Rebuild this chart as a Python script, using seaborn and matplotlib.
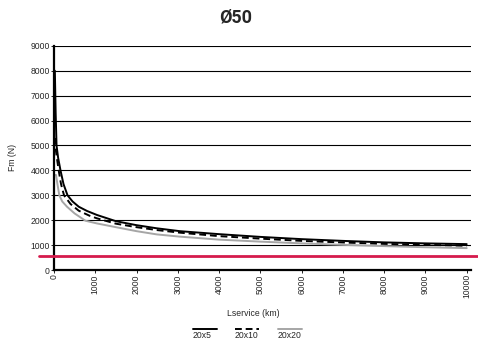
import pandas as pd
import matplotlib
matplotlib.use("Agg")
import matplotlib.pyplot as plt
import seaborn as sns
from matplotlib.lines import Line2D

# data
km_5 = [20, 40, 61, 100, 157, 230, 327, 450, 600, 800, 1040, 1500, 2000, 2490, 3050,
        4000, 5000, 6000, 7000, 8000, 9000, 10000]
fm_5 = [8000, 6300, 5000, 4500, 4000, 3450, 3000, 2750, 2540, 2370, 2210, 1960, 1800, 1675, 1560,
        1440, 1330, 1240, 1170, 1110, 1070, 1040]
km_10 = [25, 32, 60, 113, 170, 242, 400, 600, 860, 1040, 1500, 2000, 2490, 3050,
         4000, 5000, 6000, 7000, 8000, 9000, 10000]
fm_10 = [5300, 5000, 4600, 4000, 3450, 3000, 2650, 2380, 2180, 2075, 1860, 1720, 1605, 1500,
         1360, 1260, 1170, 1105, 1050, 1010, 975]
km_20 = [0, 48, 80, 128, 200, 315, 500, 760, 1040, 1500, 2000, 2490, 3050,
         4000, 5000, 6000, 7000, 8000, 9000, 10000]
fm_20 = [3815, 3815, 3480, 3000, 2750, 2540, 2270, 1980, 1870, 1720, 1560, 1430, 1340,
         1220, 1140, 1070, 1010, 960, 915, 880]
series = ["20x5", "20x10", "20x20"]
min_load = 550
y_ticks = list(range(0, 9001, 1000))
x_ticks = list(range(0, 10001, 1000))

df = pd.concat([
    pd.DataFrame({"km": km_5, "fm": fm_5, "screw": "20x5"}),
    pd.DataFrame({"km": km_10, "fm": fm_10, "screw": "20x10"}),
    pd.DataFrame({"km": km_20, "fm": fm_20, "screw": "20x20"}),
])

sns.set_style("white")
plt.rcParams["font.family"] = ["Liberation Sans", "DejaVu Sans"]

colors = {"20x5": "black", "20x10": "black", "20x20": "#a6a6a6"}
dashes = {"20x5": "", "20x10": (3.5, 2), "20x20": ""}

fig = plt.figure(figsize=(4.78, 3.44), dpi=100)
ax = fig.add_axes([0.113, 0.215, 0.872, 0.652])

ax.yaxis.grid(True, color="black", lw=0.8)
ax.set_axisbelow(True)

sns.lineplot(data=df, x="km", y="fm", hue="screw", style="screw", palette=colors,
             dashes=dashes, lw=1.4, legend=False, ax=ax, sort=False)

ax.axhline(min_load, xmin=-0.037, xmax=1.02, color="#d51a4c", lw=2, clip_on=False, zorder=5)

ax.set_xlim(0, 10100)
ax.set_ylim(0, 9000)
ax.set_yticks(y_ticks)
ax.set_xticks(x_ticks)
ax.set_xticklabels([str(t) for t in x_ticks], rotation=90)
ax.tick_params(axis="both", labelsize=6.2, length=2, width=0.6, pad=1, color="black", direction="out")
ax.tick_params(axis="x", bottom=True)
ax.tick_params(axis="y", left=True)

for s in ["top", "right"]:
    ax.spines[s].set_visible(False)
for s in ["left", "bottom"]:
    ax.spines[s].set_color("black")
    ax.spines[s].set_linewidth(1.6)

ax.set_xlabel("Lservice (km)", fontsize=6.2)
ax.xaxis.set_label_coords(0.477, -0.175)
ax.set_ylabel("Fm (N)", fontsize=6.2)
ax.yaxis.set_label_coords(-0.09, 0.5)

fig.text(0.492, 0.95, "Ø50", ha="center", va="center", fontsize=13,
         fontweight="bold", family=["Roboto", "DejaVu Sans"])

# legend below the axes: line above its label
leg_x = [(193, 217), (235, 259), (278, 302)]
for name, (x0, x1) in zip(series, leg_x):
    ls = "--" if name == "20x10" else "-"
    line = Line2D([x0 / 478, x1 / 478], [1 - 329 / 344] * 2, transform=fig.transFigure,
                  color=colors[name], lw=1.4, linestyle=ls, dashes=(3.5, 2) if ls == "--" else (None, None))
    fig.add_artist(line)
    fig.text(x0 / 478, 1 - 336 / 344, name, fontsize=6.2, ha="left", va="center")

fig.savefig("out.png", dpi=100)
